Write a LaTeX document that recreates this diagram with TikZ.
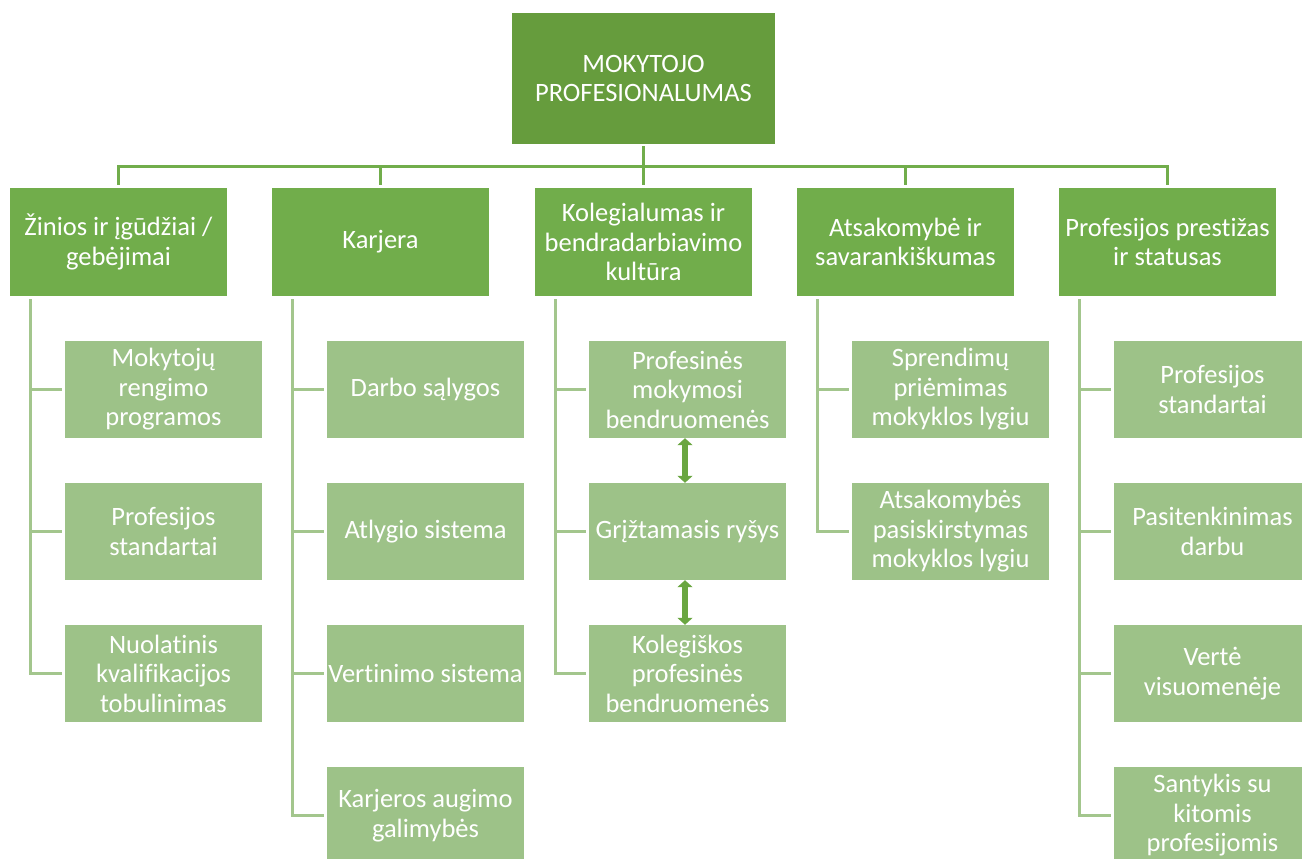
\documentclass[tikz,border=0pt]{standalone}
\usepackage{fontspec}
\setmainfont{Carlito}[Ligatures=NoCommon]
\usetikzlibrary{arrows.meta}
\definecolor{topg}{HTML}{669C3D}
\definecolor{midg}{HTML}{71AD4B}
\definecolor{lowg}{HTML}{9DC288}
\definecolor{lineA}{HTML}{71AD4B}
\definecolor{lineB}{HTML}{A3C68D}
\definecolor{arrg}{HTML}{6AA641}
\tikzset{
  base/.style={draw=none,inner sep=0pt,align=center,text=white,
    font=\fontsize{26.5}{29.5}\selectfont},
  topbox/.style={base,fill=topg,minimum width=263pt,minimum height=131pt},
  midbox/.style={base,fill=midg,minimum width=217pt,minimum height=108pt},
  lowbox/.style={base,fill=lowg,minimum width=197pt,minimum height=97pt},
  conA/.style={draw=lineA,line width=3pt},
  conB/.style={draw=lineB,line width=3pt},
  dbl/.style={draw=arrg,line width=5.5pt,{Triangle[width=15pt,length=7pt]}-{Triangle[width=15pt,length=7pt]}}
}
\begin{document}
\begin{tikzpicture}[x=1pt,y=-1pt]
\useasboundingbox (0,0) rectangle (1302,859);
\node[topbox] (T) at (643.5,78.5) {MOKYTOJO\\PROFESIONALUMAS};
\node[midbox] (A) at (118.5,242) {Žinios ir įgūdžiai /\\gebėjimai};
\node[midbox] (B) at (380.5,242) {Karjera};
\node[midbox] (C) at (643.5,242) {Kolegialumas ir\\bendradarbiavimo\\kultūra};
\node[midbox] (D) at (905.5,242) {Atsakomybė ir\\savarankiškumas};
\node[midbox] (E) at (1167.5,242) {Profesijos prestižas\\ir statusas};
% children
\node[lowbox] (A1) at (163.5,389.5) {Mokytojų\\rengimo\\programos};
\node[lowbox] (A2) at (163.5,531.5) {Profesijos\\standartai};
\node[lowbox] (A3) at (163.5,673.5) {Nuolatinis\\kvalifikacijos\\tobulinimas};
\node[lowbox] (B1) at (425.5,389.5) {Darbo sąlygos};
\node[lowbox] (B2) at (425.5,531.5) {Atlygio sistema};
\node[lowbox] (B3) at (425.5,673.5) {Vertinimo sistema};
\node[lowbox] (B4) at (425.5,815.5) {Karjeros augimo\\galimybės};
\node[lowbox] (C1) at (687.5,389.5) {Profesinės\\mokymosi\\bendruomenės};
\node[lowbox] (C2) at (687.5,531.5) {Grįžtamasis ryšys};
\node[lowbox] (C3) at (687.5,673.5) {Kolegiškos\\profesinės\\bendruomenės};
\node[lowbox] (D1) at (950.5,389.5) {Sprendimų\\priėmimas\\mokyklos lygiu};
\node[lowbox] (D2) at (950.5,531.5) {Atsakomybės\\pasiskirstymas\\mokyklos lygiu};
\node[lowbox] (E1) at (1212.5,389.5) {Profesijos\\standartai};
\node[lowbox] (E2) at (1212.5,531.5) {Pasitenkinimas\\darbu};
\node[lowbox] (E3) at (1212.5,673.5) {Vertė\\visuomenėje};
\node[lowbox] (E4) at (1212.5,815.5) {Santykis su\\kitomis\\profesijomis};
% level-1 connectors
\coordinate (bus) at ([yshift=-22pt]T.south);
\foreach \n in {A,B,C,D,E}{
  \draw[conA] ([yshift=-2pt]T.south) -- (bus) -| ([yshift=3pt]\n.north);
}
% level-2 connectors
\foreach \p/\c in {A/A1,A/A2,A/A3,B/B1,B/B2,B/B3,B/B4,C/C1,C/C2,C/C3,D/D1,D/D2,E/E1,E/E2,E/E3,E/E4}{
  \draw[conB] ([xshift=21pt,yshift=-3pt]\p.south west) |- ([xshift=-3pt]\c.west);
}
% double arrows
\draw[dbl] ([xshift=-2.5pt]C1.south) -- ([xshift=-2.5pt]C2.north);
\draw[dbl] ([xshift=-2.5pt]C2.south) -- ([xshift=-2.5pt]C3.north);
\end{tikzpicture}
\end{document}
